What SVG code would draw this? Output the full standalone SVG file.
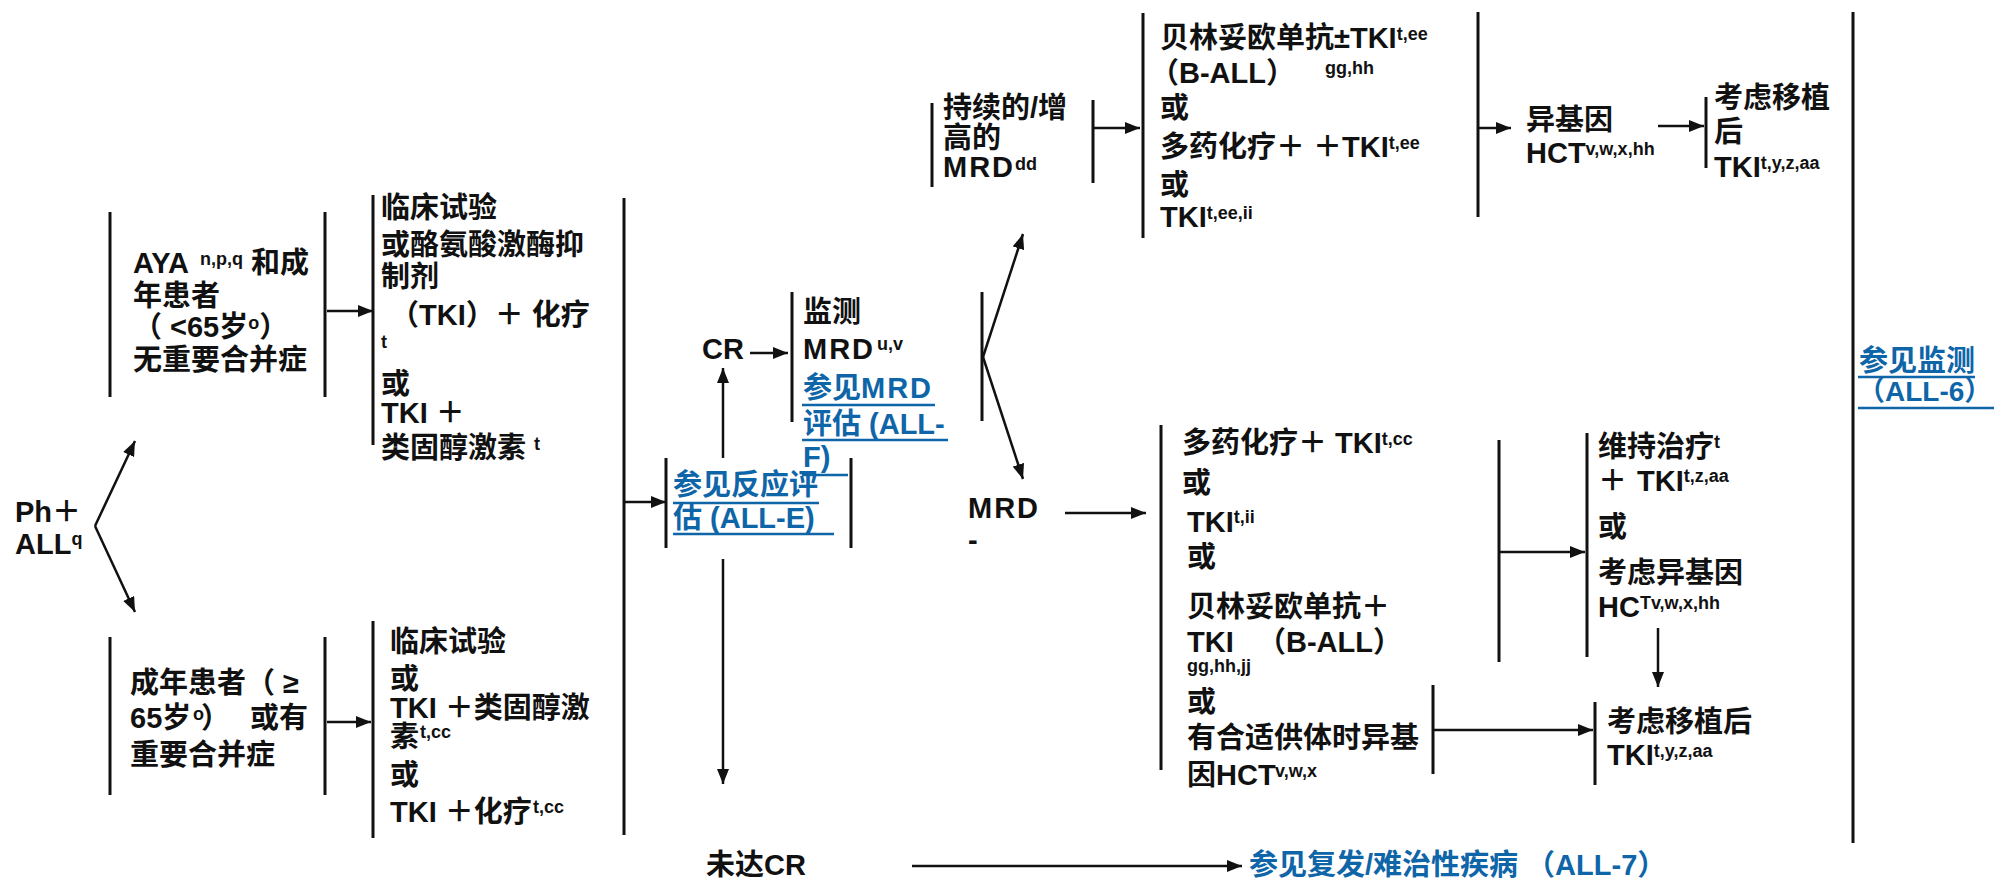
<svg xmlns="http://www.w3.org/2000/svg" width="1994" height="880" viewBox="0 0 1994 880">
<style>
.t{font-family:"Liberation Sans","Noto Sans CJK SC",sans-serif;font-weight:700;font-size:29px;fill:#111}
.s{font-size:18px}
.b{fill:#0E65A8}
.ms{letter-spacing:2px}
.ln{stroke:#111;stroke-width:3;fill:none}
.ul{stroke:#0E65A8;stroke-width:2.5;fill:none}
.c{stroke:#111;stroke-width:2.5;fill:none;marker-end:url(#ah)}
</style>
<defs>
<marker id="ah" markerUnits="userSpaceOnUse" markerWidth="16" markerHeight="12" refX="15" refY="6" orient="auto">
<path d="M0,0 L15,6 L0,12 z" fill="#111"/>
</marker>
</defs>
<rect width="1994" height="880" fill="#fff"/>

<g id="n-ph">
<text class="t" x="15" y="522">Ph＋</text>
<text class="t" x="15" y="554">ALL<tspan class="s" dy="-9">q</tspan></text>
</g>

<g id="n-aya">
<line class="ln" x1="110" y1="212" x2="110" y2="397"/>
<line class="ln" x1="325" y1="212" x2="325" y2="397"/>
<text class="t" x="133" y="273">AYA</text>
<text class="t s" x="200" y="265">n,p,q</text>
<text class="t" x="251" y="273">和成</text>
<text class="t" x="133" y="306">年患者</text>
<text class="t" x="133" y="337">（ &lt;65岁<tspan class="s" dy="-8">o</tspan><tspan dy="8">）</tspan></text>
<text class="t" x="133" y="370">无重要合并症</text>
</g>

<g id="n-tx1">
<line class="ln" x1="373" y1="195" x2="373" y2="445"/>
<text class="t" x="381" y="218">临床试验</text>
<text class="t" x="381" y="255">或酪氨酸激酶抑</text>
<text class="t" x="381" y="287">制剂</text>
<text class="t" x="390" y="325">（TKI）＋ 化疗</text>
<text class="t s" x="381" y="348">t</text>
<text class="t" x="381" y="394">或</text>
<text class="t" x="381" y="423">TKI ＋</text>
<text class="t" x="381" y="458">类固醇激素</text>
<text class="t s" x="534" y="450">t</text>
</g>

<g id="n-old">
<line class="ln" x1="110" y1="637" x2="110" y2="795"/>
<line class="ln" x1="325" y1="637" x2="325" y2="795"/>
<text class="t" x="130" y="693">成年患者（ ≥</text>
<text class="t" x="130" y="728">65岁</text>
<text class="t s" x="193" y="720">o</text>
<text class="t" x="201" y="728">）</text>
<text class="t" x="250" y="728">或有</text>
<text class="t" x="130" y="765">重要合并症</text>
</g>

<g id="n-tx2">
<line class="ln" x1="373" y1="621" x2="373" y2="838"/>
<text class="t" x="390" y="652">临床试验</text>
<text class="t" x="390" y="689">或</text>
<text class="t" x="390" y="718">TKI ＋类固醇激</text>
<text class="t" x="390" y="747">素</text>
<text class="t s" x="420" y="738">t,cc</text>
<text class="t" x="390" y="785">或</text>
<text class="t" x="390" y="822">TKI ＋化疗</text>
<text class="t s" x="533" y="813">t,cc</text>
</g>

<g id="n-bar1">
<line class="ln" x1="624" y1="198" x2="624" y2="835"/>
</g>

<g id="n-resp">
<line class="ln" x1="666" y1="458" x2="666" y2="548"/>
<line class="ln" x1="851" y1="458" x2="851" y2="548"/>
<text class="t b" x="673" y="495">参见反应评</text>
<text class="t b" x="673" y="528">估 (ALL-E)</text>
<line class="ul" x1="673" y1="503" x2="819" y2="503"/>
<line class="ul" x1="673" y1="534" x2="834" y2="534"/>
</g>

<g id="n-cr">
<text class="t" x="702" y="359">CR</text>
</g>

<g id="n-mon">
<line class="ln" x1="792" y1="292" x2="792" y2="422"/>
<text class="t" x="803" y="322">监测</text>
<text class="t ms" x="803" y="359">MRD</text>
<text class="t s" x="877" y="350">u,v</text>
<text class="t b" x="803" y="398">参见<tspan class="ms">MRD</tspan></text>
<line class="ul" x1="802" y1="405" x2="935" y2="405"/>
<text class="t b" x="803" y="434">评估 (ALL-</text>
<line class="ul" x1="802" y1="440" x2="948" y2="440"/>
<text class="t b" x="803" y="467">F)</text>
<line class="ul" x1="802" y1="475" x2="848" y2="475"/>
</g>

<g id="n-split">
<line class="ln" x1="982" y1="292" x2="982" y2="421"/>
</g>

<g id="n-pers">
<line class="ln" x1="932" y1="103" x2="932" y2="187"/>
<line class="ln" x1="1093" y1="100" x2="1093" y2="183"/>
<text class="t" x="943" y="118">持续的/增</text>
<text class="t" x="943" y="148">高的</text>
<text class="t ms" x="943" y="177">MRD</text>
<text class="t s" x="1015" y="170">dd</text>
</g>

<g id="n-opt1">
<line class="ln" x1="1143" y1="13" x2="1143" y2="238"/>
<line class="ln" x1="1478" y1="12" x2="1478" y2="217"/>
<text class="t" x="1160" y="48">贝林妥欧单抗±TKI<tspan class="s" dy="-8">t,ee</tspan></text>
<text class="t" x="1150" y="83">（B-ALL）</text>
<text class="t s" x="1325" y="74">gg,hh</text>
<text class="t" x="1160" y="118">或</text>
<text class="t" x="1160" y="157">多药化疗＋ ＋TKI<tspan class="s" dy="-8">t,ee</tspan></text>
<text class="t" x="1160" y="195">或</text>
<text class="t" x="1160" y="227">TKI<tspan class="s" dy="-8">t,ee,ii</tspan></text>
</g>

<g id="n-hct1">
<text class="t" x="1526" y="130">异基因</text>
<text class="t" x="1526" y="163">HCT<tspan class="s" dy="-8">v,w,x,hh</tspan></text>
</g>

<g id="n-post1">
<line class="ln" x1="1706" y1="97" x2="1706" y2="168"/>
<text class="t" x="1714" y="108">考虑移植</text>
<text class="t" x="1714" y="142">后</text>
<text class="t" x="1714" y="177">TKI<tspan class="s" dy="-8">t,y,z,aa</tspan></text>
</g>

<g id="n-bar2">
<line class="ln" x1="1853" y1="12" x2="1853" y2="843"/>
</g>

<g id="n-seemon">
<text class="t b" x="1859" y="371">参见监测</text>
<line class="ul" x1="1858" y1="377" x2="1975" y2="377"/>
<text class="t b" x="1857" y="401" style="font-size:28px">（ALL-6）</text>
<line class="ul" x1="1858" y1="408" x2="1994" y2="408"/>
</g>

<g id="n-mrdneg">
<text class="t ms" x="968" y="518">MRD</text>
<text class="t" x="968" y="550">-</text>
</g>

<g id="n-opt2">
<line class="ln" x1="1161" y1="425" x2="1161" y2="770"/>
<text class="t" x="1182" y="453">多药化疗＋ TKI<tspan class="s" dy="-8">t,cc</tspan></text>
<text class="t" x="1182" y="493">或</text>
<text class="t" x="1187" y="532">TKI<tspan class="s" dy="-9">t,ii</tspan></text>
<text class="t" x="1187" y="567">或</text>
<text class="t" x="1187" y="617">贝林妥欧单抗＋</text>
<text class="t" x="1187" y="652">TKI</text>
<text class="t" x="1257" y="652">（B-ALL）</text>
<text class="t s" x="1187" y="672">gg,hh,jj</text>
<text class="t" x="1187" y="712">或</text>
<text class="t" x="1187" y="748">有合适供体时异基</text>
<text class="t" x="1187" y="785">因HCT</text>
<text class="t s" x="1275" y="777">v,w,x</text>
</g>

<g id="n-brk1">
<line class="ln" x1="1499" y1="440" x2="1499" y2="662"/>
</g>

<g id="n-maint">
<line class="ln" x1="1587" y1="433" x2="1587" y2="657"/>
<text class="t" x="1598" y="457">维持治疗<tspan class="s" dy="-9">t</tspan></text>
<text class="t" x="1598" y="491">＋</text>
<text class="t" x="1637" y="491">TKI<tspan class="s" dy="-9">t,z,aa</tspan></text>
<text class="t" x="1598" y="537">或</text>
<text class="t" x="1598" y="583">考虑异基因</text>
<text class="t" x="1598" y="617">HC<tspan class="s" dy="-8">Tv,w,x,hh</tspan></text>
</g>

<g id="n-brk2">
<line class="ln" x1="1433" y1="685" x2="1433" y2="774"/>
</g>

<g id="n-post2">
<line class="ln" x1="1595" y1="702" x2="1595" y2="785"/>
<text class="t" x="1607" y="732">考虑移植后</text>
<text class="t" x="1607" y="765">TKI<tspan class="s" dy="-8">t,y,z,aa</tspan></text>
</g>

<g id="n-nocr">
<text class="t" x="706" y="875">未达CR</text>
</g>

<g id="n-rr">
<text class="t b" x="1249" y="875">参见复发/难治性疾病 （ALL-7）</text>
</g>

<g id="connectors">
<line class="c" x1="95" y1="526" x2="135" y2="441"/>
<line class="c" x1="95" y1="526" x2="135" y2="612"/>
<line class="c" x1="327" y1="311" x2="373" y2="311"/>
<line class="c" x1="327" y1="722" x2="371" y2="722"/>
<line class="c" x1="625" y1="502" x2="666" y2="502"/>
<line class="c" x1="723" y1="458" x2="723" y2="368"/>
<line class="c" x1="723" y1="559" x2="723" y2="784"/>
<line class="c" x1="750" y1="353" x2="788" y2="353"/>
<line class="c" x1="983" y1="357" x2="1023" y2="234"/>
<line class="c" x1="983" y1="357" x2="1023" y2="479"/>
<line class="c" x1="1065" y1="513" x2="1146" y2="513"/>
<line class="c" x1="1094" y1="128" x2="1140" y2="128"/>
<line class="c" x1="1479" y1="128" x2="1511" y2="128"/>
<line class="c" x1="1658" y1="126" x2="1704" y2="126"/>
<line class="c" x1="1500" y1="552" x2="1585" y2="552"/>
<line class="c" x1="1434" y1="730" x2="1593" y2="730"/>
<line class="c" x1="1658" y1="628" x2="1658" y2="687"/>
<line class="c" x1="912" y1="866" x2="1242" y2="866"/>
</g>
</svg>
